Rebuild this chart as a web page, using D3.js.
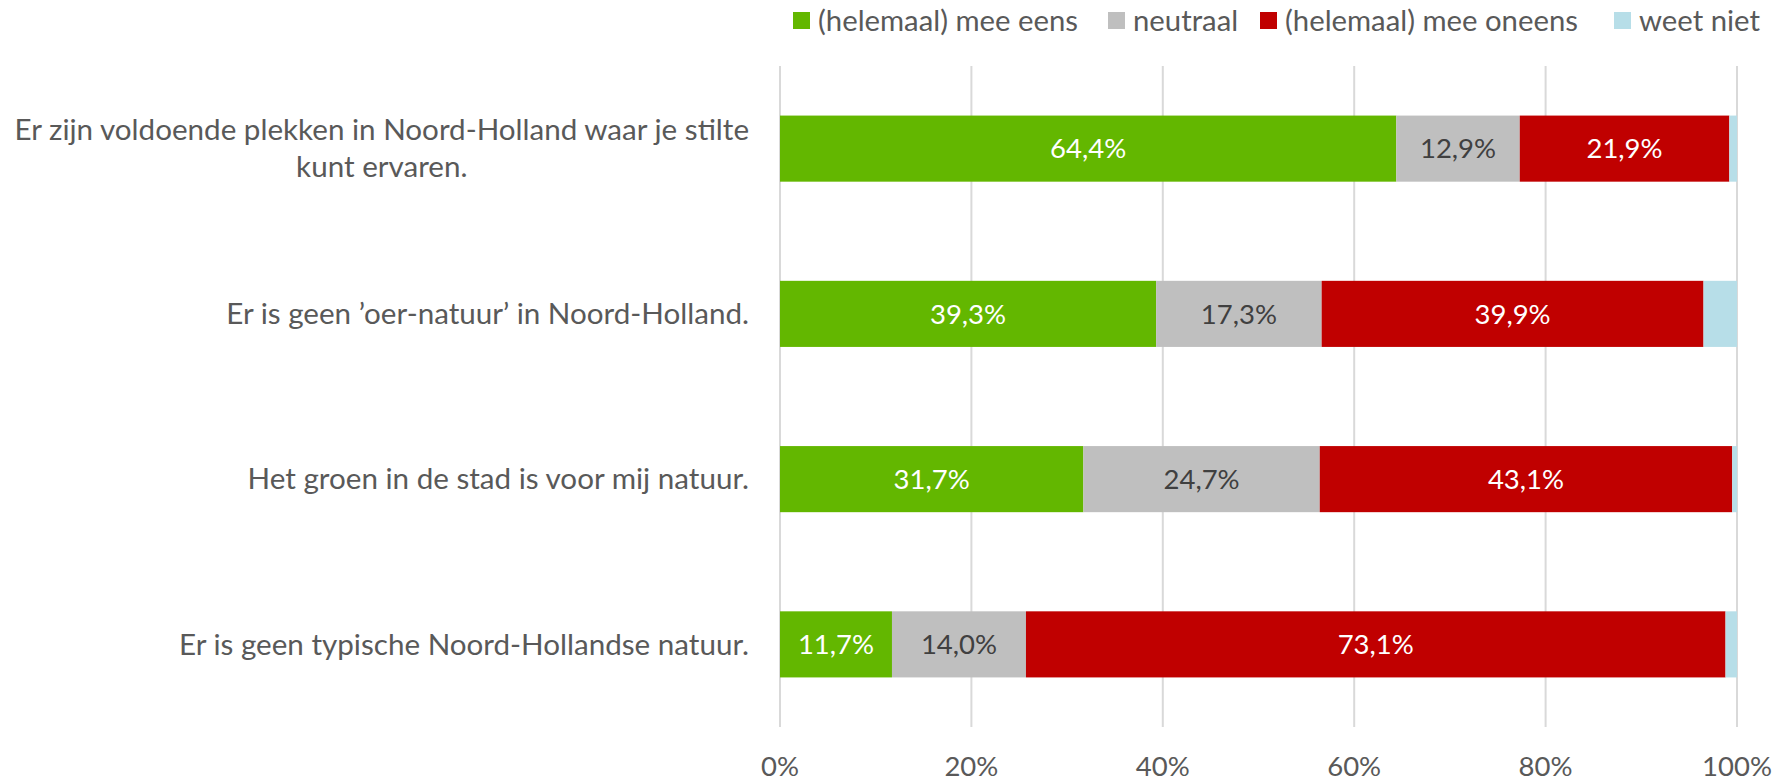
<!DOCTYPE html>
<html>
<head>
<meta charset="utf-8">
<script src="https://d3js.org/d3.v7.min.js"></script>
<style>
  body { margin: 0; background: #fff; }
  text { font-family: Lato, "Open Sans", sans-serif; }
</style>
</head>
<body>
<svg id="chart" width="1786" height="783"></svg>
<script>

// statements (top to bottom), first one wraps on two lines
var statements = [
	["Er zijn voldoende plekken in Noord-Holland waar je stilte", "kunt ervaren."],
	["Er is geen \u2019oer-natuur\u2019 in Noord-Holland."],
	["Het groen in de stad is voor mij natuur."],
	["Er is geen typische Noord-Hollandse natuur."]
];
var answers = ["(helemaal) mee eens", "neutraal", "(helemaal) mee oneens", "weet niet"];
var eens    = [64.4, 39.3, 31.7, 11.7];
var neutraal = [12.9, 17.3, 24.7, 14.0];
var oneens  = [21.9, 39.9, 43.1, 73.1];
var weetniet = [0.8, 3.5, 0.5, 1.2];
var ticks = [0, 20, 40, 60, 80, 100];

var colors = ["#63b700", "#bfbfbf", "#c00000", "#b7dee8"];
var labelColors = ["#ffffff", "#404040", "#ffffff", null];

var svg = d3.select("#chart");

// plot area
var plotLeft = 780, plotRight = 1737, plotTop = 66, plotBottom = 727;

var x = d3.scaleLinear().domain([0, 100]).range([plotLeft, plotRight]);
var y = d3.scaleBand().domain(d3.range(statements.length)).range([plotTop, plotBottom]).paddingInner(0.6).paddingOuter(0.3);

// gridlines
svg.append("g")
	.selectAll("line")
	.data(ticks)
	.enter().append("line")
		.attr("x1", function(d) { return x(d); })
		.attr("x2", function(d) { return x(d); })
		.attr("y1", plotTop)
		.attr("y2", plotBottom)
		.attr("stroke", "#d9d9d9")
		.attr("stroke-width", 2);

// tick labels
svg.append("g")
	.selectAll("text")
	.data(ticks)
	.enter().append("text")
		.attr("x", function(d) { return x(d); })
		.attr("y", 766)
		.attr("dy", "0.35em")
		.attr("text-anchor", "middle")
		.style("font-size", "27.5px")
		.style("fill", "#595959")
		.text(function(d) { return d + "%"; });

// stack the data
var rows = statements.map(function(s, i) {
	return { i: i, vals: [eens[i], neutraal[i], oneens[i], weetniet[i]] };
});
var stack = d3.stack().keys([0, 1, 2, 3]).value(function(d, k) { return d.vals[k]; });
var series = stack(rows);

var groups = svg.selectAll("g.serie")
	.data(series)
	.enter().append("g")
		.attr("class", "serie")
		.attr("fill", function(d) { return colors[d.key]; });

groups.selectAll("rect")
	.data(function(d) { return d; })
	.enter().append("rect")
		.attr("x", function(d) { return x(d[0]); })
		.attr("width", function(d) { return x(d[1]) - x(d[0]); })
		.attr("y", function(d) { return y(d.data.i); })
		.attr("height", y.bandwidth());

// value labels (not for weet niet)
groups.filter(function(d) { return labelColors[d.key] != null; })
	.selectAll("text")
	.data(function(d) { return d.map(function(p) { return { p: p, key: d.key }; }); })
	.enter().append("text")
		.attr("x", function(d) { return (x(d.p[0]) + x(d.p[1])) / 2; })
		.attr("y", function(d) { return y(d.p.data.i) + y.bandwidth() / 2; })
		.attr("dy", "0.35em")
		.attr("text-anchor", "middle")
		.style("font-size", "27.5px")
		.style("fill", function(d) { return labelColors[d.key]; })
		.text(function(d) { return d3.format(".1f")(d.p.data.vals[d.key]).replace(".", ",") + "%"; });

// category labels
var lineH = 37;
statements.forEach(function(lines, i) {
	var cy = y(i) + y.bandwidth() / 2;
	var g = svg.append("g");
	var t = g.append("text")
		.style("font-size", "29.6px")
		.style("fill", "#595959")
		.attr("text-anchor", "middle");
	lines.forEach(function(l, j) {
		t.append("tspan")
			.attr("x", 0)
			.attr("y", cy + (j - (lines.length - 1) / 2) * lineH)
			.attr("dy", "0.35em")
			.text(l);
	});
	// right edge of the block sits at 749
	var w = t.node().getBBox().width;
	g.attr("transform", "translate(" + (749 - w / 2) + ",0)");
});

// legend
var legendX = [793, 1108, 1260, 1614];
var legend = svg.append("g")
	.selectAll("g")
	.data(answers)
	.enter().append("g")
		.attr("transform", function(d, i) { return "translate(" + legendX[i] + ",21)"; });
legend.append("rect")
	.attr("x", 0)
	.attr("y", -9)
	.attr("width", 17)
	.attr("height", 17)
	.attr("fill", function(d, i) { return colors[i]; });
legend.append("text")
	.attr("x", 25)
	.attr("dy", "0.35em")
	.style("font-size", "29.3px")
	.style("fill", "#595959")
	.text(function(d) { return d; });

</script>
</body>
</html>
